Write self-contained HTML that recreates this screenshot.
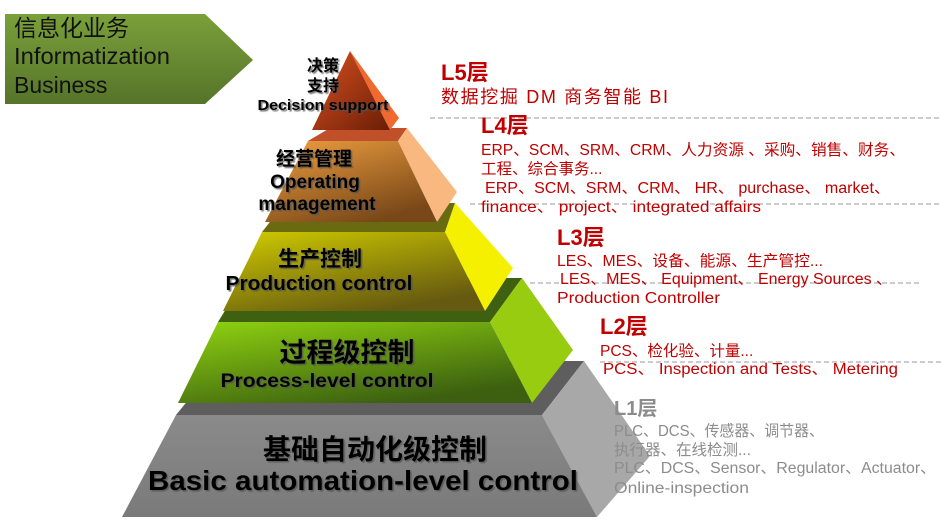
<!DOCTYPE html>
<html><head><meta charset="utf-8"><style>
html,body{margin:0;padding:0;background:#fff;}
body{width:941px;height:526px;overflow:hidden;position:relative;}
svg{position:absolute;left:0;top:0;}
.r{font-family:"Liberation Sans","Noto Sans CJK SC",sans-serif;fill:#c00000;}
.g{font-family:"Liberation Sans","Noto Sans CJK SC",sans-serif;fill:#8c8c8c;}
.p{font-family:"Liberation Sans","Noto Sans CJK SC",sans-serif;font-weight:bold;fill:#000;}
</style></head><body>
<svg width="941" height="526" viewBox="0 0 941 526">
<defs>
<linearGradient id="gArrow" x1="0" y1="0" x2="0" y2="1"><stop offset="0" stop-color="#7aa03a"/><stop offset="1" stop-color="#56742a"/></linearGradient>
<linearGradient id="g5" x1="0" y1="0" x2="1" y2="1"><stop offset="0" stop-color="#d85020"/><stop offset="1" stop-color="#6a1e06"/></linearGradient>
<linearGradient id="g4" x1="0" y1="0" x2="0.6" y2="1"><stop offset="0" stop-color="#f0a040"/><stop offset="1" stop-color="#7a4818"/></linearGradient>
<linearGradient id="g3" x1="0" y1="0" x2="0.6" y2="1"><stop offset="0" stop-color="#d0cc00"/><stop offset="1" stop-color="#665a10"/></linearGradient>
<linearGradient id="g2" x1="0" y1="0" x2="0.6" y2="1"><stop offset="0" stop-color="#90d410"/><stop offset="1" stop-color="#3c6010"/></linearGradient>
<linearGradient id="g1" x1="0" y1="0" x2="0" y2="1"><stop offset="0" stop-color="#8a8a8a"/><stop offset="1" stop-color="#7a7a7a"/></linearGradient>
<filter id="sh"><feDropShadow dx="1.5" dy="1.5" stdDeviation="0.5" flood-color="#555" flood-opacity="0.8"/></filter>
</defs>
<polygon points="5,14 205,14 253,60 205,104 5,104" fill="url(#gArrow)"/>
<text x="14" y="36" font-family="Liberation Sans,Noto Sans CJK SC,sans-serif" font-size="23" fill="#111">信息化业务</text>
<text x="14" y="64" font-family="Liberation Sans,sans-serif" font-size="23" fill="#111" textLength="156" lengthAdjust="spacingAndGlyphs">Informatization</text>
<text x="14" y="93" font-family="Liberation Sans,sans-serif" font-size="23" fill="#111">Business</text>
<g stroke="#999" stroke-dasharray="5,3" stroke-width="1">
<line x1="430" y1="118" x2="941" y2="118"/>
<line x1="470" y1="204" x2="941" y2="204"/>
<line x1="530" y1="283" x2="920" y2="283"/>
<line x1="600" y1="362" x2="941" y2="362"/>
</g>
<polygon points="176,415 220,361 584,361 542,415" fill="#5e5e5e"/>
<polygon points="542,415 584,361 650,456 597,517" fill="#a8a8a8"/>
<polygon points="176,415 542,415 597,517 122,517" fill="url(#g1)"/>
<polygon points="218,322 245,278 522,278 490,322" fill="#3e6010"/>
<polygon points="490,322 522,278 573,350 532,403" fill="#98cc10"/>
<polygon points="218,322 490,322 532,403 178,403" fill="url(#g2)"/>
<polygon points="262,232 285,203 455,203 445,232" fill="#6a6a10"/>
<polygon points="445,232 455,203 513,268 485,311" fill="#f4f000"/>
<polygon points="262,232 445,232 485,311 223,311" fill="url(#g3)"/>
<polygon points="308,141 330,128 407,128 398,141" fill="#c0502a"/>
<polygon points="398,141 407,128 457,192 437,222" fill="#f8b880"/>
<polygon points="308,141 398,141 437,222 265,222" fill="url(#g4)"/>
<polygon points="350,51 399,118 390,130" fill="#f06a30"/>
<polygon points="350,51 390,130 312,130" fill="url(#g5)"/>
<g class="p" text-anchor="middle" filter="url(#sh)">
<text x="323" y="71" font-size="16">决策</text>
<text x="323" y="91" font-size="16">支持</text>
<text x="323" y="110" font-size="15" textLength="131" lengthAdjust="spacingAndGlyphs">Decision support</text>
<text x="314" y="165" font-size="19">经营管理</text>
<text x="315" y="188" font-size="19">Operating</text>
<text x="317" y="210" font-size="19">management</text>
<text x="320" y="266" font-size="21">生产控制</text>
<text x="319" y="290" font-size="20" textLength="187" lengthAdjust="spacingAndGlyphs">Production control</text>
<text x="347" y="362" font-size="27">过程级控制</text>
<text x="327" y="387" font-size="19" textLength="213" lengthAdjust="spacingAndGlyphs">Process-level control</text>
<text x="375" y="459" font-size="28">基础自动化级控制</text>
<text x="363" y="490" font-size="28" textLength="430" lengthAdjust="spacingAndGlyphs">Basic automation-level control</text>
</g>
<g class="r">
<text x="441" y="80" font-size="22" font-weight="bold">L5层</text>
<text x="441" y="103" font-size="18" textLength="227" lengthAdjust="spacing">数据挖掘 DM  商务智能  BI</text>
<text x="481" y="133" font-size="22" font-weight="bold">L4层</text>
<text x="481" y="155" font-size="15.5" textLength="424" lengthAdjust="spacingAndGlyphs">ERP、SCM、SRM、CRM、人力资源 、采购、销售、财务、</text>
<text x="481" y="174" font-size="15.5">工程、综合事务...</text>
<text x="485" y="193" font-size="15.5" textLength="405" lengthAdjust="spacingAndGlyphs">ERP、SCM、SRM、CRM、 HR、 purchase、 market、</text>
<text x="481" y="212" font-size="15.5" textLength="280" lengthAdjust="spacingAndGlyphs">finance、 project、 integrated affairs</text>
<text x="557" y="245" font-size="22" font-weight="bold">L3层</text>
<text x="557" y="266" font-size="15.5" textLength="266" lengthAdjust="spacingAndGlyphs">LES、MES、设备、能源、生产管控...</text>
<text x="560" y="284" font-size="15.5" textLength="332" lengthAdjust="spacingAndGlyphs">LES、MES、 Equipment、 Energy Sources 、</text>
<text x="557" y="303" font-size="15.5" textLength="163" lengthAdjust="spacingAndGlyphs">Production Controller</text>
<text x="600" y="334" font-size="22" font-weight="bold">L2层</text>
<text x="600" y="356" font-size="15.5">PCS、检化验、计量...</text>
<text x="603" y="374" font-size="15.5" textLength="295" lengthAdjust="spacingAndGlyphs">PCS、 Inspection and Tests、  Metering</text>
</g>
<g class="g">
<text x="614" y="415" font-size="20" font-weight="bold">L1层</text>
<text x="614" y="436" font-size="15.5" textLength="210" lengthAdjust="spacingAndGlyphs">PLC、DCS、传感器、调节器、</text>
<text x="614" y="455" font-size="15.5">执行器、在线检测...</text>
<text x="614" y="473" font-size="15.5" textLength="322" lengthAdjust="spacingAndGlyphs">PLC、DCS、Sensor、Regulator、Actuator、</text>
<text x="614" y="493" font-size="15.5" textLength="135" lengthAdjust="spacingAndGlyphs">Online-inspection</text>
</g>
</svg>
</body></html>
